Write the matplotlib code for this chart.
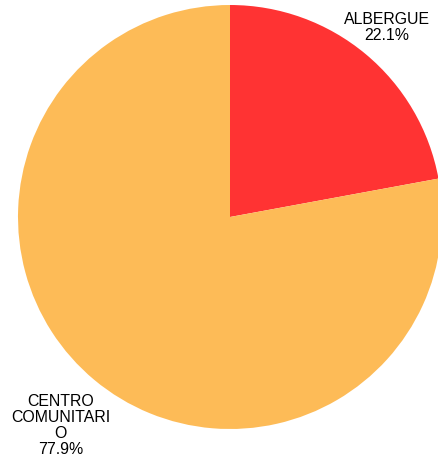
import matplotlib
matplotlib.use("Agg")
import matplotlib.pyplot as plt

categories = ["ALBERGUE", "CENTRO COMUNITARIO"]
shares = [22.1, 77.9]
label_lines = ["ALBERGUE", "CENTRO\nCOMUNITARI\nO"]
colors = ["#FF3333", "#FDBB57"]

plt.rcParams['font.family'] = ['Liberation Sans', 'DejaVu Sans']

W, H = 438, 461
fig = plt.figure(figsize=(W / 100, H / 100), dpi=100)
ax = fig.add_axes([0, 0, 1, 1])

cx, cy, r = 230, 217, 212

ax.pie(shares, colors=colors, startangle=90, counterclock=False,
       radius=1.0, center=(0, 0), frame=True,
       wedgeprops=dict(linewidth=0))
ax.axis('off')
ax.set_xlim((0 - cx) / r, (W - cx) / r)
ax.set_ylim(-(H - cy) / r, cy / r)

label_pos = [(0.74, 0.895), (-0.80, -0.985)]
for name, val, (x, y) in zip(label_lines, shares, label_pos):
    ax.text(x, y, f"{name}\n{val:.1f}%", ha='center', va='center',
            fontsize=11.4, color='#000000', linespacing=1.08)

fig.savefig("out.png", dpi=100)
